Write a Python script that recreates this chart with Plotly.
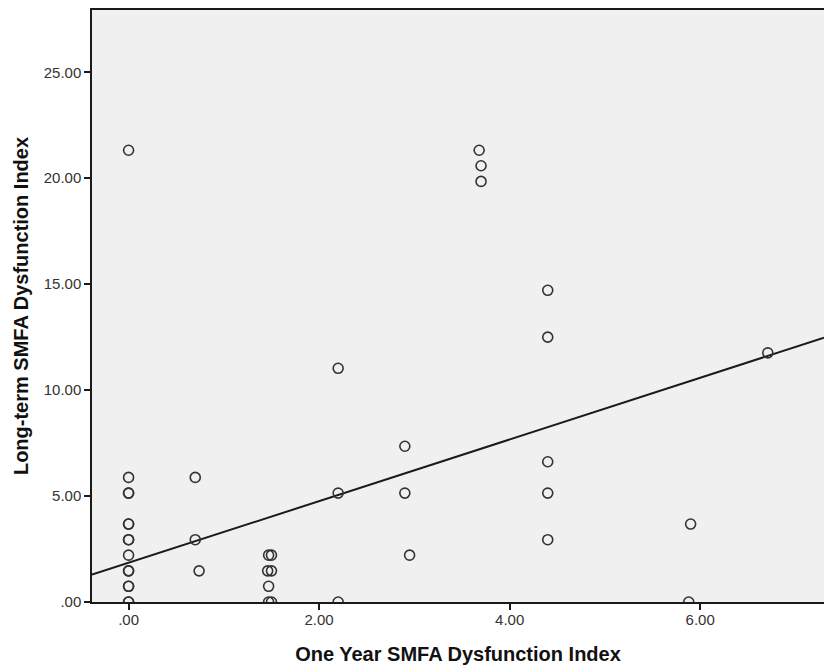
import plotly.graph_objects as go

# One Year SMFA Dysfunction Index (x) vs Long-term SMFA Dysfunction Index (y)
one_year = [0, 0, 0, 0, 0, 0, 0, 0, 0, 0, 0, 0, 0, 0, 0,
            0.70, 0.70, 0.74,
            1.47, 1.50, 1.46, 1.50, 1.47, 1.47, 1.50,
            2.20, 2.20, 2.20,
            2.90, 2.90, 2.95,
            3.68, 3.70, 3.70,
            4.40, 4.40, 4.40, 4.40, 4.40,
            5.90, 5.88,
            6.71]
long_term = [21.32, 5.88, 5.14, 5.14, 3.68, 3.68, 2.94, 2.94, 2.21, 1.47, 1.47, 0.74, 0.74, 0, 0,
             5.88, 2.94, 1.47,
             2.21, 2.21, 1.47, 1.47, 0.74, 0, 0,
             11.03, 5.14, 0,
             7.35, 5.14, 2.21,
             21.32, 20.59, 19.85,
             14.71, 12.50, 6.62, 5.14, 2.94,
             3.68, 0,
             11.76]

# linear fit line (intercept, slope)
fit_intercept = 1.85
fit_slope = 1.455

x_range = [-0.384, 7.30]
y_range = [0, 27.94]

x_tickvals = [0, 2, 4, 6]
x_ticktext = [".00", "2.00", "4.00", "6.00"]
y_tickvals = [0, 5, 10, 15, 20, 25]
y_ticktext = [".00", "5.00", "10.00", "15.00", "20.00", "25.00"]

fit_x = [x_range[0], x_range[1]]
fit_y = [fit_intercept + fit_slope * v for v in fit_x]

fig = go.Figure()
fig.add_trace(go.Scatter(
    x=fit_x, y=fit_y, mode="lines",
    line=dict(color="#1a1a1a", width=2),
    hoverinfo="skip", showlegend=False,
))
fig.add_trace(go.Scatter(
    x=one_year, y=long_term, mode="markers",
    marker=dict(symbol="circle-open", size=10, color="#333333", line=dict(width=1.6)),
    showlegend=False,
))

font_family = "Liberation Sans, Arial, sans-serif"
fig.update_layout(
    width=824, height=669,
    margin=dict(l=92, r=0, t=10, b=67),
    paper_bgcolor="white",
    plot_bgcolor="#F0F0F0",
    font=dict(family=font_family, color="#333333"),
    xaxis=dict(
        range=x_range, tickvals=x_tickvals, ticktext=x_ticktext,
        showgrid=False, zeroline=False,
        showline=True, linecolor="#1a1a1a", linewidth=1.5, mirror=True,
        ticks="outside", ticklen=6, tickcolor="#1a1a1a", tickwidth=1.5,
        ticklabelstandoff=-3,
        tickfont=dict(size=15, color="#333333"),
        title=dict(text="<b>One Year SMFA Dysfunction Index</b>",
                   font=dict(size=20, color="#111111"), standoff=20),
    ),
    yaxis=dict(
        range=y_range, tickvals=y_tickvals, ticktext=y_ticktext,
        showgrid=False, zeroline=False,
        showline=True, linecolor="#1a1a1a", linewidth=1.5, mirror=False,
        ticks="outside", ticklen=6, tickcolor="#1a1a1a", tickwidth=1.5,
        tickfont=dict(size=15, color="#333333"),
        title=dict(text="<b>Long-term SMFA Dysfunction Index</b>",
                   font=dict(size=20, color="#111111"), standoff=10),
    ),
)

fig.write_html("out.html", config={"displayModeBar": False},
               post_script="document.body.style.margin='0';document.body.style.overflow='hidden';")
